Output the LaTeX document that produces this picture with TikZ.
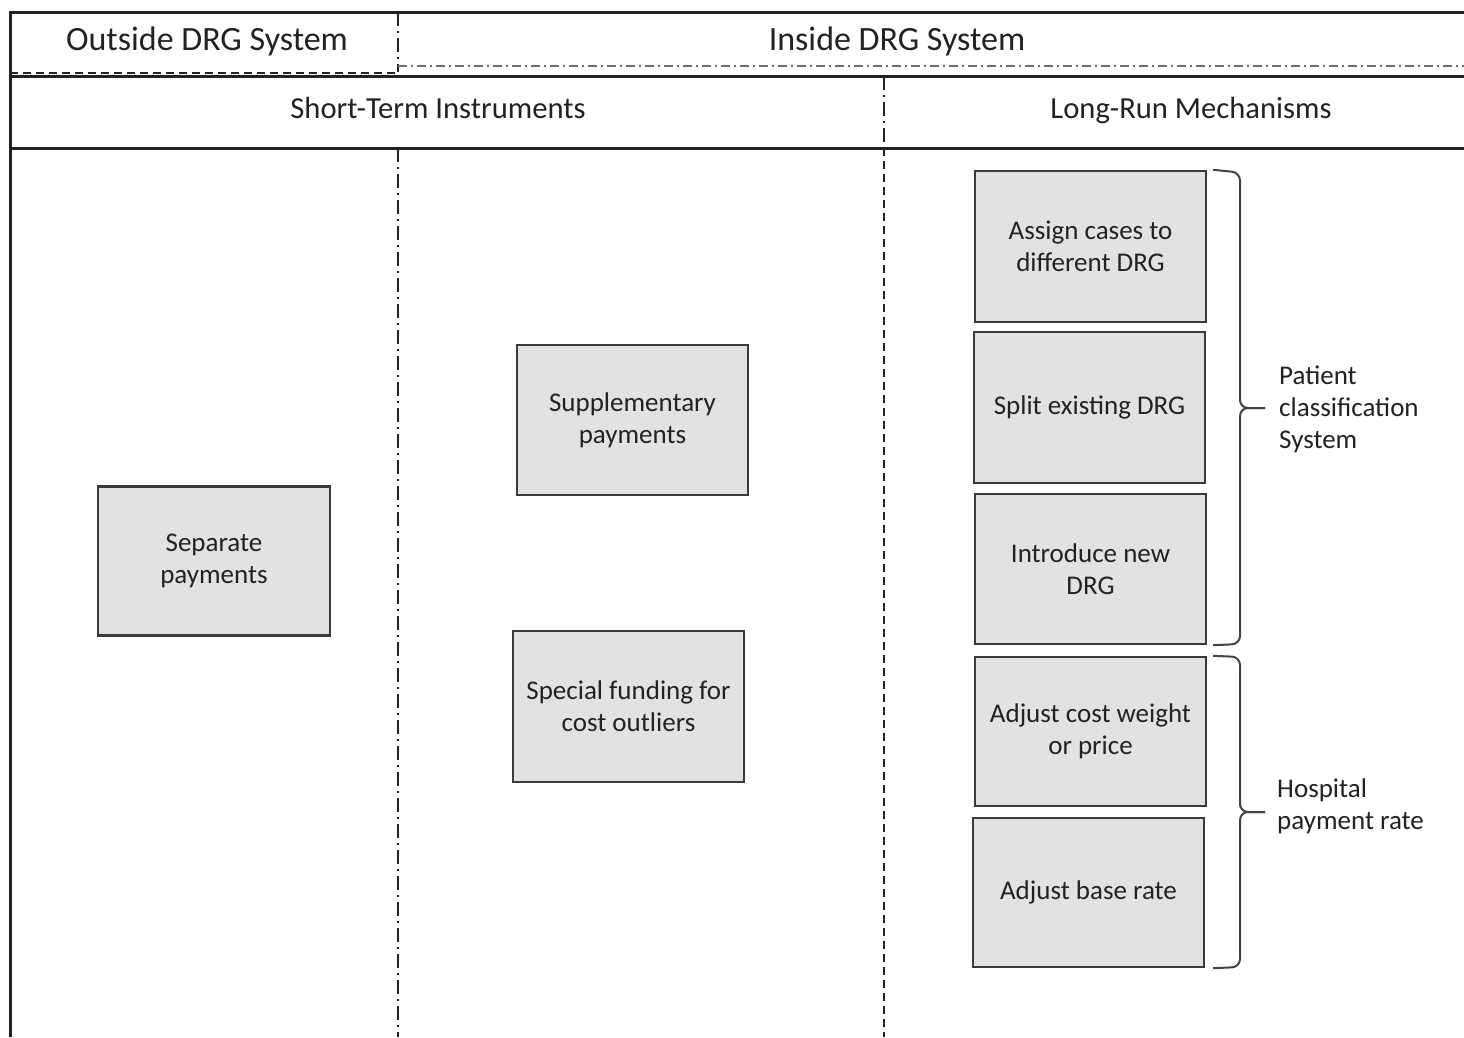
\documentclass[tikz,border=0pt]{standalone}
\usepackage{fontspec}
\setmainfont{Carlito}
\usetikzlibrary{calc}
\definecolor{ink}{HTML}{222222}
\definecolor{boxfill}{HTML}{E2E2E2}
\definecolor{boxline}{HTML}{3A3A3A}
\tikzset{
  frame/.style={line width=3pt, draw=ink},
  divdashdot/.style={line width=2pt, draw=ink, dash pattern=on 14pt off 5pt on 2pt off 5pt},
  divdashed/.style={line width=2pt, draw=ink, dash pattern=on 8pt off 5pt},
  lightdashdot/.style={line width=1.5pt, draw=ink!65, dash pattern=on 9pt off 4pt on 2pt off 4pt},
  headtext/.style={text=ink, anchor=base, inner sep=0pt, font=\fontsize{34}{40}\selectfont},
  subheadtext/.style={text=ink, anchor=base, inner sep=0pt, font=\fontsize{30.6}{36}\selectfont},
  mech/.style={draw=boxline, line width=2.4pt, fill=boxfill, text=ink,
    minimum width=231pt, minimum height=150pt, align=center, inner sep=0pt,
    font=\fontsize{27}{32}\selectfont},
  grouplabel/.style={text=ink, align=left, anchor=west, inner sep=0pt,
    font=\fontsize{27}{32}\selectfont},
  bracket/.style={line width=2pt, draw=ink!85, rounded corners=8pt}
}
\begin{document}
\begin{tikzpicture}[x=1pt, y=-1pt]
\useasboundingbox (0,0) rectangle (1464,1037);
\fill[white] (0,0) rectangle (1464,1037);

% outer frame and header rows
\draw[frame] (10,1037) -- (10,12) -- (1464,12);
\draw[frame] (10,76) -- (1464,76);
\draw[frame] (10,148) -- (1464,148);
\draw[divdashed] (10,73) -- (398,73);
\draw[divdashdot] (398,12) -- (398,72);
\draw[lightdashdot] (398,66) -- (1464,66);

% column dividers
\draw[divdashdot] (398,148) -- (398,1037);
\draw[divdashdot] (884,76) -- (884,148);
\draw[divdashed] (884,148) -- (884,1037);

% header texts
\node[headtext] (outside) at (207,50) {Outside DRG System};
\node[headtext] (inside) at (897,50) {Inside DRG System};
\node[subheadtext] (short) at (438,118) {Short-Term Instruments};
\node[subheadtext] (long) at (1191,118) {Long-Run Mechanisms};

% instruments and mechanisms
\node[mech, minimum height=149pt, minimum width=232pt] (sep) at (214,561) {Separate\\payments};
\node[mech] (supp) at (632.5,420) {Supplementary\\payments};
\node[mech, minimum height=151pt] (special) at (628.5,706.5) {Special funding for\\cost outliers};
\node[mech, minimum height=151pt] (assign) at (1090.5,246.5) {Assign cases to\\different DRG};
\node[mech, minimum height=151pt] (split) at (1089.5,407.5) {Split existing DRG};
\node[mech] (intro) at (1090.5,569) {Introduce new\\DRG};
\node[mech, minimum height=149pt] (costw) at (1090.5,731.5) {Adjust cost weight\\or price};
\node[mech, minimum height=149pt] (base) at (1088.5,892.5) {Adjust base rate};

% group labels
\node[grouplabel] (pcs) at (1279,409) {Patient\\classification\\System};
\node[grouplabel] (hpr) at (1277,806) {Hospital\\payment rate};

% brackets grouping the mechanisms
\coordinate (b1tip) at (1265,408);
\draw[bracket] ($(assign.north east)+(6,0)$) -- (1240,172.5) -- (1240,408) -- (b1tip);
\draw[bracket] ($(intro.south east)+(6,0)$) -- (1240,644) -- (1240,408) -- (b1tip);
\coordinate (b2tip) at (1265,812);
\draw[bracket] ($(costw.north east)+(6,0)$) -- (1240,657) -- (1240,812) -- (b2tip);
\draw[bracket] ($(base.south east)+(8,0)$) -- (1240,967) -- (1240,812) -- (b2tip);
\end{tikzpicture}
\end{document}
